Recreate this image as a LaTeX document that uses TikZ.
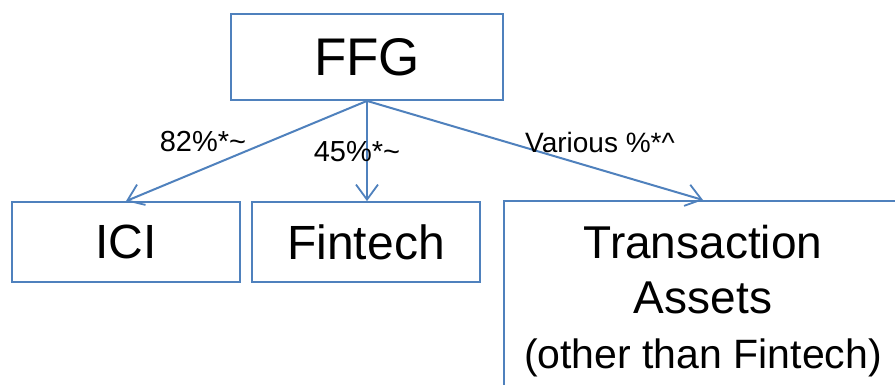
\documentclass[tikz,border=0pt]{standalone}
\usepackage{fontspec}
\setmainfont{Liberation Sans}
\usetikzlibrary{arrows.meta}
\definecolor{linkblue}{RGB}{79,129,189}
\tikzset{
  entity/.style={draw=linkblue, line width=1.8pt, inner sep=0pt, text=black},
  link/.style={draw=linkblue, line width=2pt,
    -{Straight Barb[length=15pt,width=22pt,line width=1.8pt]}},
  share/.style={inner sep=0pt, text=black, font=\fontsize{29}{34}\selectfont}
}
\begin{document}
\begin{tikzpicture}[x=1pt, y=-1pt]
  \useasboundingbox (0,0) rectangle (895,385);
  \clip (0,0) rectangle (895,385);
  \fill[white] (0,0) rectangle (895,385);

  % parent entity
  \node[entity, minimum width=272pt, minimum height=86pt,
        font=\fontsize{53}{60}\selectfont] (ffg) at (367,57) {FFG};

  % subsidiaries
  \node[entity, minimum width=228pt, minimum height=80pt,
        font=\fontsize{48}{56}\selectfont] (ici) at (126,242) {ICI};
  \node[entity, minimum width=228pt, minimum height=80pt,
        font=\fontsize{48}{56}\selectfont] (fintech) at (366,242) {Fintech};
  \node[entity, minimum width=420pt, minimum height=220pt,
        anchor=north west] (trans) at (503,200) {};
  \node[align=center, inner sep=0pt, font=\fontsize{46}{55}\selectfont]
    (transtext) at (703,301)
    {Transaction\\Assets\\{\fontsize{41}{53}\selectfont (other than Fintech)}};

  % ownership links
  \draw[link] (ffg.south) -- (ici.north);
  \draw[link] (ffg.south) -- (fintech.north -| ffg.south);
  \draw[link] (ffg.south) -- (trans.north -| transtext.center);

  % ownership shares
  \node[share] (s1) at (203,142) {82\%*\textasciitilde};
  \node[share] (s2) at (357,152) {45\%*\textasciitilde};
  \node[share, font=\fontsize{28}{33}\selectfont] (s3) at (600,142)
    {Various \%*\textasciicircum};
\end{tikzpicture}
\end{document}
